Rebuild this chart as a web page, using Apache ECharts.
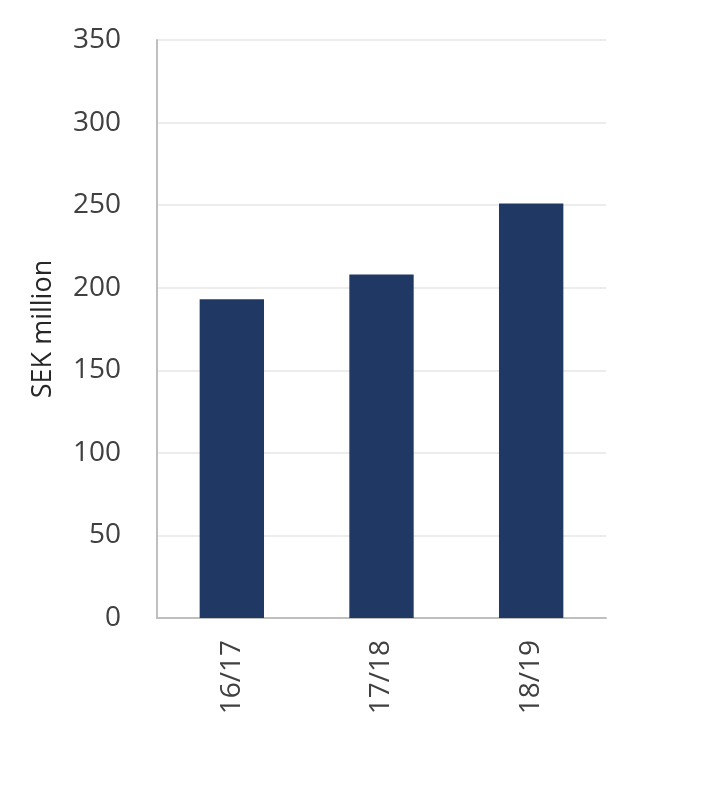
<!DOCTYPE html>
<html><head><meta charset="utf-8">
<script src="https://cdn.jsdelivr.net/npm/echarts@6/dist/echarts.min.js"></script>
<style>html,body{margin:0;padding:0;background:#fff}#c{width:705px;height:801px}</style>
</head><body><div id="c"></div>
<script>
const categories = ['16/17', '17/18', '18/19'];
const values = [193, 208, 251];
const yTicks = [0, 50, 100, 150, 200, 250, 300, 350];

const chart = echarts.init(document.getElementById('c'));
chart.setOption({
  animation: false,
  backgroundColor: '#fff',
  grid: { left: 157, right: 99, top: 40, bottom: 183 },
  xAxis: {
    type: 'category', data: categories,
    axisLine: { lineStyle: { color: '#bfbfbf', width: 2 } },
    axisTick: { show: false },
    axisLabel: { rotate: 90, fontSize: 28, color: '#404040', margin: 22, fontFamily: 'Open Sans' }
  },
  yAxis: {
    type: 'value', min: yTicks[0], max: yTicks[yTicks.length - 1], interval: 50,
    name: 'SEK million', nameLocation: 'middle', nameGap: 100, nameRotate: 90,
    nameTextStyle: { fontSize: 27, color: '#262626', fontFamily: 'Open Sans' },
    axisLine: { show: true, lineStyle: { color: '#bfbfbf', width: 2 } },
    axisTick: { show: false },
    axisLabel: { fontSize: 28, color: '#404040', margin: 36, fontFamily: 'Open Sans' },
    splitLine: { lineStyle: { color: '#e6e6e6', width: 1.5 } }
  },
  series: [{
    type: 'bar', data: values, barWidth: '43%',
    itemStyle: { color: '#1f3864' }
  }]
});
</script></body></html>
